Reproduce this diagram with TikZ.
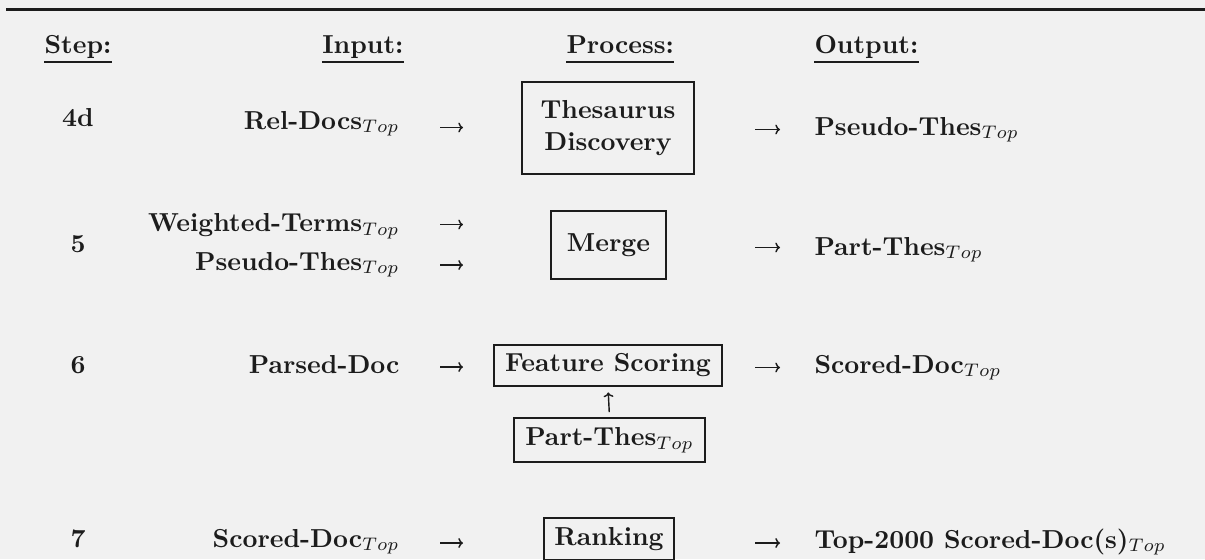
\documentclass[tikz,border=0pt]{standalone}
\usetikzlibrary{arrows.meta,calc}
\definecolor{bgc}{RGB}{241,241,241}
\definecolor{ink}{RGB}{28,28,28}
\newcommand{\pxu}{0.3846pt}
\begin{document}
\begin{tikzpicture}[x=0.3846pt,y=-0.3846pt,
  txt/.style={inner sep=0pt,font=\bfseries,text=ink},
  pbox/.style={draw=ink,line width=0.75pt,inner sep=0pt,font=\bfseries,text=ink,align=center},
  arr/.style={draw=ink,line width=0.55pt,-{To[length=1.8pt,width=3.8pt]}},
  uline/.style={draw=ink,line width=0.6pt}]
\fill[bgc] (0,0) rectangle (1205,559);
\useasboundingbox (0,0) rectangle (1205,559);
% top rule
\coordinate (rl) at (6,9.5);
\coordinate (rr) at (1205,9.5);
\draw[ink,line width=0.8pt] (rl) -- (rr);
% headers
\node[txt,anchor=base] (hs) at (78,53) {Step:};
\node[txt,anchor=base east] (hi) at (404,53) {Input:};
\node[txt,anchor=base west] (hp) at (566,53) {Process:};
\node[txt,anchor=base west] (ho) at (814,53) {Output:};
\foreach \n in {hs,hi,hp,ho}
  \draw[uline] ($(\n.base west)+(0,9)$) -- ($(\n.base east)+(0,9)$);
% process boxes
\node[pbox,minimum width=172*\pxu,minimum height=92*\pxu] (thes) at (608,128) {Thesaurus\\Discovery};
\node[pbox,minimum width=115*\pxu,minimum height=68*\pxu] (merge) at (608.5,245) {Merge};
\node[pbox,minimum width=228*\pxu,minimum height=41*\pxu] (fs) at (608,365.5) {Feature Scoring};
\node[pbox,minimum width=191*\pxu,minimum height=44*\pxu] (pt) at (609.5,440) {Part-Thes$_{Top}$};
\node[pbox,minimum width=130*\pxu,minimum height=42*\pxu] (rank) at (609,539) {Ranking};
\draw[arr,shorten <=1.9pt,shorten >=2.1pt] (pt.north) -- (fs.south);
% row 4d
\node[txt,anchor=base] (s4) at (78,126) {4d};
\node[txt,anchor=base east] (i4) at (400,129) {Rel-Docs$_{Top}$};
\coordinate (a4s) at (440,127.5); \coordinate (a4e) at (463,127.5);
\draw[arr] (a4s) -- (a4e);
\coordinate (b4s) at (755,129.5); \coordinate (b4e) at (780,129.5);
\draw[arr] (b4s) -- (b4e);
\node[txt,anchor=base west] (o4) at (814,135) {Pseudo-Thes$_{Top}$};
% row 5
\node[txt,anchor=base] (s5) at (78,252) {5};
\node[txt,anchor=base east] (i5a) at (400,231.5) {Weighted-Terms$_{Top}$};
\node[txt,anchor=base east] (i5b) at (400,270) {Pseudo-Thes$_{Top}$};
\coordinate (a5s) at (440,224.5); \coordinate (a5e) at (463,224.5);
\draw[arr] (a5s) -- (a5e);
\coordinate (a5bs) at (440,265); \coordinate (a5be) at (463,265);
\draw[arr] (a5bs) -- (a5be);
\coordinate (b5s) at (755,247.5); \coordinate (b5e) at (780,247.5);
\draw[arr] (b5s) -- (b5e);
\node[txt,anchor=base west] (o5) at (814,255) {Part-Thes$_{Top}$};
% row 6
\node[txt,anchor=base] (s6) at (78,373) {6};
\node[txt,anchor=base east] (i6) at (400,373) {Parsed-Doc};
\coordinate (a6s) at (440,367); \coordinate (a6e) at (463,367);
\draw[arr] (a6s) -- (a6e);
\coordinate (b6s) at (755,367.5); \coordinate (b6e) at (780,367.5);
\draw[arr] (b6s) -- (b6e);
\node[txt,anchor=base west] (o6) at (814,373) {Scored-Doc$_{Top}$};
% row 7
\node[txt,anchor=base] (s7) at (78,547) {7};
\node[txt,anchor=base east] (i7) at (400,547) {Scored-Doc$_{Top}$};
\coordinate (a7s) at (440,543); \coordinate (a7e) at (463,543);
\draw[arr] (a7s) -- (a7e);
\coordinate (b7s) at (755,543); \coordinate (b7e) at (780,543);
\draw[arr] (b7s) -- (b7e);
\node[txt,anchor=base west] (o7) at (814,548) {Top-2000 Scored-Doc(s)$_{Top}$};
\end{tikzpicture}
\end{document}
